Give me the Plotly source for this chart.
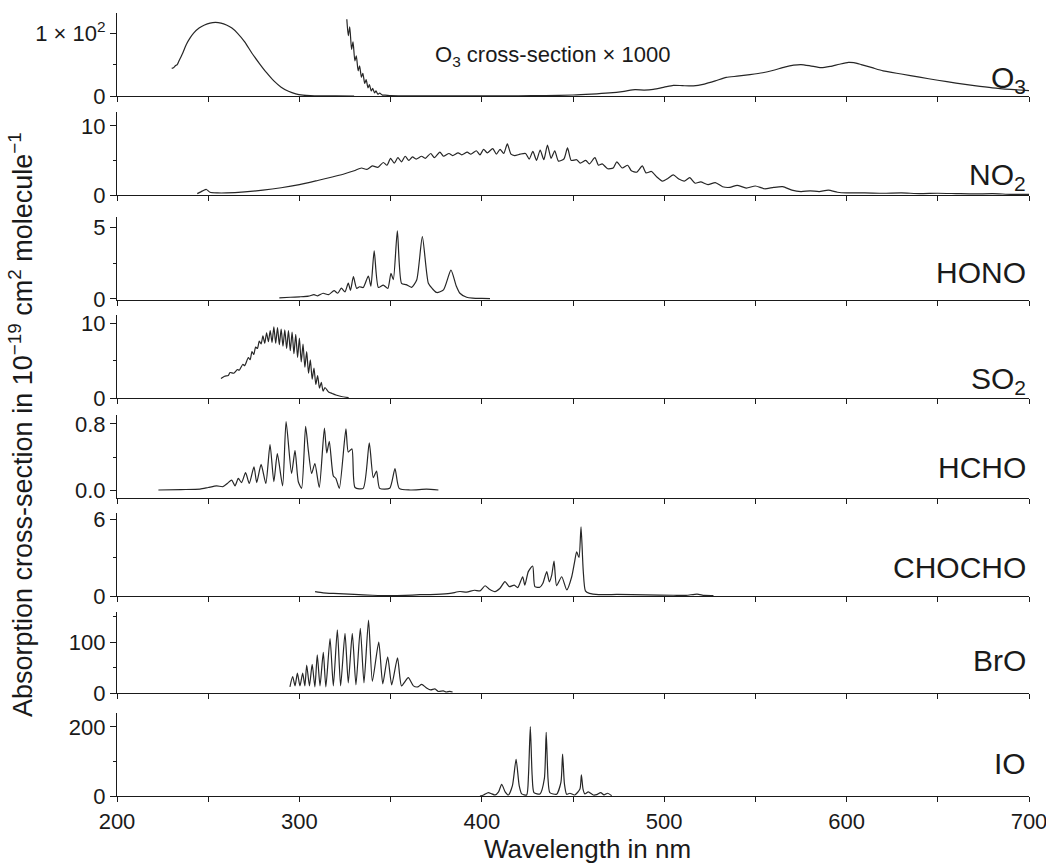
import plotly.graph_objects as go

# ---------------- data (wavelength in nm, cross-section in 1e-19 cm2/molecule) -------------
wl_o3 = [230, 231, 232, 233, 234, 236, 238, 240, 242, 245, 248, 251, 254, 257, 260, 263, 266,
         270, 274, 278, 282, 286, 290, 294, 298, 302, 306, 312, 320, 330]
o3 = [44, 45, 48, 50, 56, 68, 82, 92, 100, 108, 113, 116, 117, 116, 113, 108, 100,
      86, 68, 52, 37, 24, 14, 7.5, 3.5, 1.5, 0.6, 0.2, 0.05, 0]

wl_o3k = [326, 326.8, 327.6, 328.6, 329.4, 330.4, 331.2, 332.2, 333, 334, 334.8, 335.8, 336.6,
          337.6, 338.4, 339.4, 340.2, 341.2, 342, 343, 344, 345.5, 347, 350, 355, 365, 380, 400,
          420, 435, 450, 460, 470, 478, 484, 489, 494, 500, 505, 510, 516, 522, 528, 534, 540,
          547, 554, 560, 566, 571, 575, 580, 586, 591, 596, 601, 604, 608, 614, 620, 630, 640,
          650, 660, 670, 680, 690, 700]
o3k = [122, 96, 110, 74, 86, 56, 64, 40, 48, 30, 36, 20, 26,
       13, 18, 8, 12, 5, 8, 3, 4.5, 1.5, 1.5, 0.6, 0.4, 0.3, 0.2, 0.2,
       0.4, 0.8, 1.6, 3, 5, 7.5, 10, 9.5, 10.5, 14, 17, 16.5, 16, 19, 24, 29.5, 31.5,
       34, 37, 41, 46, 49, 50, 48, 45, 47, 50.5, 53.5, 53, 50, 45, 40, 35, 30,
       25, 20.5, 16.5, 13, 10.5, 8.5]

wl_no2 = [244, 247, 249, 251, 255, 260, 270, 280, 290, 300, 310, 318, 324, 330, 334, 337, 340,
          343, 346, 348, 350, 352, 354, 356, 358, 360, 362, 364, 367, 369, 372, 374, 377, 379,
          382, 384, 387, 389, 392, 394, 397, 399, 401, 403, 406, 408, 410, 412, 414, 416, 418,
          421, 424, 426, 428, 430, 432, 434, 436, 438, 440, 442, 445, 447, 449, 452, 454, 457,
          459, 462, 464, 466, 469, 472, 474, 477, 480, 482, 485, 488, 490, 493, 496, 499, 502,
          505, 508, 511, 514, 517, 520, 524, 528, 532, 536, 540, 545, 550, 555, 560, 565, 570,
          575, 580, 585, 590, 595, 600, 610, 620, 630, 640, 650, 660, 670, 680, 690, 700]
no2 = [0.2, 0.6, 0.8, 0.4, 0.3, 0.3, 0.45, 0.7, 1.05, 1.5, 2.1, 2.6, 3.0, 3.5, 3.9, 3.7, 4.2,
       4.0, 4.7, 4.3, 5.3, 4.6, 5.4, 4.8, 5.6, 5.0, 5.5, 5.2, 5.6, 5.3, 6.0, 5.4, 6.2, 5.6,
       6.0, 5.7, 6.1, 5.8, 6.2, 5.9, 6.4, 5.8, 6.6, 6.1, 6.7, 5.9, 6.6, 6.0, 7.4, 5.9, 5.7,
       5.9, 6.0, 5.2, 6.3, 5.0, 6.5, 5.1, 7.2, 5.3, 6.4, 4.9, 5.2, 6.8, 5.0, 5.1, 4.6, 5.0,
       4.5, 5.4, 4.3, 4.5, 3.8, 3.9, 4.8, 3.9, 4.3, 3.5, 3.3, 4.2, 3.2, 3.4, 2.6, 2.0, 2.4,
       2.9, 2.3, 2.0, 2.5, 1.7, 1.9, 1.5, 1.8, 1.2, 1.1, 1.4, 1.0, 1.3, 0.9, 1.1, 1.2, 0.7,
       0.5, 0.6, 0.5, 0.7, 0.4, 0.3, 0.3, 0.25, 0.3, 0.2, 0.25, 0.2, 0.15, 0.2, 0.1, 0.1]

wl_hono = [289, 295, 300, 305, 308, 310, 313, 316, 319, 321, 323, 325, 326.8, 328, 329.6, 331.4,
           333, 335, 337.8, 339.2, 341, 343.3, 346, 348.5, 350.2, 351.5, 353.7, 356, 358.5,
           361.5, 364.3, 367.4, 370.7, 373, 375.3, 379, 383.1, 386, 388, 391.7, 395, 400, 404.5]
hono = [0.08, 0.12, 0.15, 0.2, 0.3, 0.22, 0.4, 0.3, 0.58, 0.4, 0.75, 0.5, 1.1, 0.6, 1.55, 0.74,
        0.85, 0.8, 1.6, 0.9, 3.35, 0.8, 0.97, 0.74, 1.78, 1.35, 4.74, 1.09, 1.0,
        0.81, 1.32, 4.33, 1.09, 0.7, 0.45, 0.63, 2.0, 0.9, 0.4, 0.12, 0.06, 0.04, 0.03]

wl_so2 = [257, 259, 261, 262, 264, 266, 267, 269, 270, 272, 273, 274, 275, 276, 277, 278, 279,
          280, 281, 282, 283, 284, 285, 286, 287, 288, 289, 290, 291, 292, 293, 294, 295, 296,
          297, 298, 299, 300, 301, 302, 303, 304, 305, 306, 307, 308, 309, 310, 311, 312, 313,
          314, 316, 318, 320, 323, 327]
so2 = [2.6, 2.9, 3.0, 3.4, 3.3, 3.8, 3.7, 4.5, 4.3, 5.4, 5.1, 6.2, 5.8, 6.8, 6.6, 7.6, 7.2,
       8.3, 7.3, 8.7, 7.5, 9.0, 7.4, 9.5, 7.3, 9.4, 7.1, 9.2, 6.9, 9.1, 6.6, 9.0, 6.3, 8.8,
       5.9, 8.5, 5.4, 8.0, 4.8, 7.2, 4.1, 6.2, 3.3, 5.1, 2.5, 4.0, 1.8, 3.0, 1.3, 2.1, 0.9,
       1.4, 0.8, 0.6, 0.4, 0.2, 0.05]

wl_hcho = [222.7, 235, 245.5, 250, 254.6, 258, 260.5, 262.9, 264.7, 266.5, 268.3, 270.5, 272.5,
           275.1, 276.6, 279, 281.6, 283.9, 286, 287.9, 290.8, 292.7, 295.7, 297.6, 299.4, 301.2,
           303.4, 304.9, 306.7, 308.5, 310.9, 313.7, 315, 316.4, 318.6, 320, 321.9, 325.5, 326.8,
           328.8, 330.5, 335, 338.3, 340.5, 342.3, 344, 349.5, 352.4, 354.7, 360.6, 369.7, 376.2]
hcho = [0.0, 0.005, 0.01, 0.03, 0.05, 0.04, 0.08, 0.12, 0.05, 0.14, 0.09, 0.21, 0.08,
        0.28, 0.09, 0.31, 0.08, 0.55, 0.1, 0.44, 0.05, 0.83, 0.2, 0.48, 0.1, 0.02,
        0.77, 0.48, 0.2, 0.32, 0.03, 0.75, 0.45, 0.59, 0.17, 0.14, 0.02, 0.74, 0.46,
        0.5, 0.03, 0.02, 0.57, 0.15, 0.23, 0.02, 0.02, 0.26, 0.02, 0.0, 0.01, 0.0]

wl_chocho = [308.6, 313, 318.6, 330, 340, 349.5, 358, 366, 375, 382.6, 388, 391.7, 396, 399,
             401.8, 404, 407.2, 410, 412.7, 415.1, 417.8, 419.7, 422.4, 423.6, 425.5, 427.9,
             429.1, 431.8, 433.5, 435.6, 437, 438.3, 439.6, 441, 443.8, 446.6, 449.3, 450.8,
             452, 453.3, 454.4, 455.6, 456.8, 459, 461, 468, 474, 490, 505, 512, 518, 522, 527]
chocho = [0.34, 0.25, 0.2, 0.12, 0.06, 0.03, 0.05, 0.1, 0.13, 0.2, 0.35, 0.3, 0.45, 0.4,
          0.8, 0.55, 0.34, 0.6, 1.12, 0.73, 0.85, 0.65, 1.5, 0.85, 1.9, 2.34,
          0.73, 0.68, 1.0, 1.9, 1.1, 1.6, 2.73, 0.8, 1.5, 0.47, 1.5, 2.6,
          3.45, 3.0, 5.4, 2.0, 0.4, 0.2, 0.15, 0.1, 0.12, 0.08, 0.06, 0.05, 0.15, 0.05, 0.04]

wl_bro = [294.8, 296.3, 297.6, 298.9, 300.3, 301.8, 303, 304, 305.5, 307, 308.5, 309.8, 311.3,
          313.1, 314.5, 316.8, 318.6, 320.8, 322.6, 325, 326.8, 329, 331, 333.4, 335.4, 337.9,
          340, 343.5, 345.7, 348.4, 350.6, 353.8, 356, 359.7, 362.5, 365, 367, 369.7, 372,
          374.3, 376.2, 378.9, 380.5, 382.5, 384]
bro = [12, 32, 14, 39, 14, 39, 14, 55, 14, 56, 12, 75, 14,
       80, 12, 107, 14, 124, 14, 117, 20, 117, 16, 127, 20, 143,
       23, 100, 18, 71, 16, 69, 14, 30, 14, 12, 17, 10, 6,
       8, 3, 4, 2, 3, 2]

wl_io = [399, 401, 403.6, 405.5, 407.3, 409.2, 410.9, 412.8, 414.6, 416.8, 418.8, 420.5, 421.9,
         424.6, 425.6, 426.6, 427.6, 428.6, 431.9, 434.3, 435.3, 436.3, 437.3, 441, 443.4,
         444.3, 445.3, 446.5, 448.3, 451, 453.8, 454.6, 455.5, 456.5, 458.4, 461.1, 463, 465.2,
         467, 469, 471.2]
io = [0, 3, 10, 6, 3, 12, 34, 12, 3, 30, 106, 30, 6,
      3, 60, 201, 60, 10, 6, 50, 184, 50, 10, 5, 40,
      121, 35, 5, 8, 3, 20, 61, 20, 6, 12, 3, 4, 10,
      3, 8, 1]

x_major = [200, 300, 400, 500, 600, 700]
x_minor = [250, 350, 450, 550, 650]

# ---------------- layout geometry (pixels) ----------------
W, H = 1046, 864
PX0, PX1 = 117, 1029
FONT = "Liberation Sans, Arial, Helvetica, sans-serif"
INK = "#1a1a1a"
CURVE = "#262626"

panels = [
    dict(series=[(wl_o3, o3), (wl_o3k, o3k)], top=13, bot=96, rng=[0, 132],
         tv=[0, 100], tt=["0", "1 × 10<sup>2</sup>"], minor=[50], label="O<sub>3</sub>", ly=79),
    dict(series=[(wl_no2, no2)], top=112, bot=195, rng=[0, 12],
         tv=[0, 10], tt=["0", "10"], minor=[5], label="NO<sub>2</sub>", ly=176),
    dict(series=[(wl_hono, hono)], top=217, bot=300, rng=[-0.07, 5.7],
         tv=[0, 5], tt=["0", "5"], minor=[2.5], label="HONO", ly=272),
    dict(series=[(wl_so2, so2)], top=315, bot=398, rng=[0, 11.07],
         tv=[0, 10], tt=["0", "10"], minor=[5], label="SO<sub>2</sub>", ly=380),
    dict(series=[(wl_hcho, hcho)], top=415, bot=498, rng=[-0.097, 0.909],
         tv=[0, 0.8], tt=["0.0", "0.8"], minor=[0.4], label="HCHO", ly=468),
    dict(series=[(wl_chocho, chocho)], top=513, bot=596, rng=[0, 6.47],
         tv=[0, 6], tt=["0", "6"], minor=[3], label="CHOCHO", ly=567),
    dict(series=[(wl_bro, bro)], top=612, bot=693, rng=[0, 159],
         tv=[0, 100], tt=["0", "100"], minor=[50, 150], label="BrO", ly=660),
    dict(series=[(wl_io, io)], top=713, bot=796, rng=[0, 240],
         tv=[0, 200], tt=["0", "200"], minor=[100], label="IO", ly=763),
]

fig = go.Figure()
layout = dict(
    width=W, height=H, margin=dict(l=0, r=0, t=0, b=0, pad=0, autoexpand=False),
    paper_bgcolor="white", plot_bgcolor="white", showlegend=False,
    font=dict(family=FONT, color=INK, size=22),
)
annotations = []
xd = [PX0 / W, PX1 / W]
n = len(panels)
for i, p in enumerate(panels, start=1):
    sfx = "" if i == 1 else str(i)
    for xs, ys in p["series"]:
        fig.add_trace(go.Scatter(x=xs, y=ys, mode="lines",
                                 line=dict(color=CURVE, width=1.2, shape="spline", smoothing=0.6),
                                 xaxis="x" + sfx, yaxis="y" + sfx, hoverinfo="skip"))
    yd = [1 - p["bot"] / H, 1 - p["top"] / H]
    layout["xaxis" + sfx] = dict(
        domain=xd, range=[200, 700], anchor="y" + sfx, showgrid=False, zeroline=False,
        automargin=False, ticklabeloverflow="allow",
        showline=True, linecolor=INK, linewidth=1.4, ticks="outside", ticklen=5,
        tickwidth=1.2, tickcolor=INK, tickvals=x_major,
        showticklabels=(i == n), tickfont=dict(size=22, family=FONT, color=INK),
        minor=dict(tickvals=x_minor, ticks="outside", ticklen=5, tickwidth=1.2,
                   tickcolor=INK, showgrid=False),
    )
    layout["yaxis" + sfx] = dict(
        domain=yd, range=p["rng"], anchor="x" + sfx, showgrid=False, zeroline=False,
        automargin=False,
        showline=True, linecolor=INK, linewidth=1.2, ticks="outside", ticklen=6,
        tickwidth=1.2, tickcolor=INK, tickvals=p["tv"], ticktext=p["tt"],
        tickfont=dict(size=22, family=FONT, color=INK),
        minor=dict(tickvals=p["minor"], ticks="outside", ticklen=3, tickwidth=1.2,
                   tickcolor=INK, showgrid=False),
    )
    annotations.append(dict(
        text=p["label"], x=1028 / W, y=1 - p["ly"] / H, xref="paper", yref="paper",
        xanchor="right", yanchor="middle", showarrow=False,
        font=dict(size=30, family=FONT, color=INK)))

annotations.append(dict(
    text="O<sub>3</sub> cross-section × 1000", x=552 / W, y=1 - 56 / H,
    xref="paper", yref="paper", xanchor="center", yanchor="middle", showarrow=False,
    font=dict(size=22, family=FONT, color=INK)))
annotations.append(dict(
    text="Wavelength in nm", x=587 / W, y=1 - 849 / H, xref="paper", yref="paper",
    xanchor="center", yanchor="middle", showarrow=False,
    font=dict(size=26, family=FONT, color=INK)))
annotations.append(dict(
    text="Absorption cross-section in 10<sup>−19</sup> cm<sup>2</sup> molecule<sup>−1</sup>",
    x=21 / W, y=1 - 425 / H, xref="paper", yref="paper", textangle=-90,
    xanchor="center", yanchor="middle", showarrow=False,
    font=dict(size=27, family=FONT, color=INK)))
layout["annotations"] = annotations
fig.update_layout(**layout)
fig.write_html("out.html", config={"displayModeBar": False},
               post_script="document.body.style.margin='0px';")
